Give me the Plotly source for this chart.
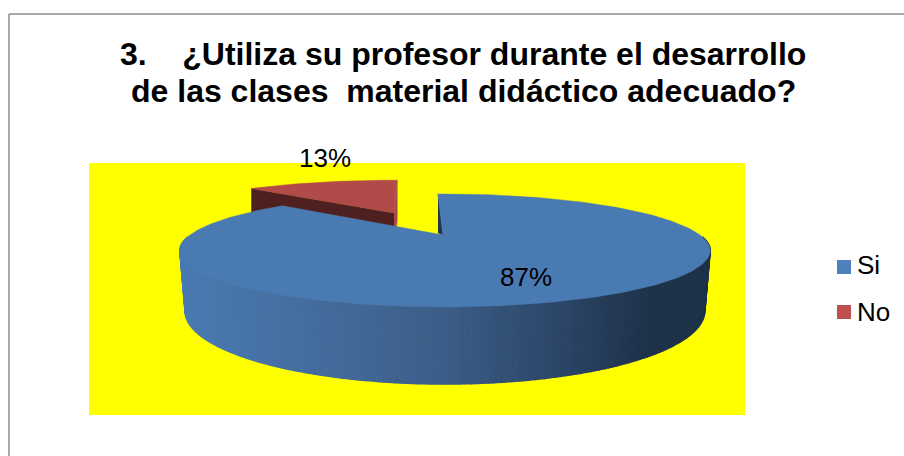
"""3D style pie chart drawn on a pixel canvas, angles come from the shares."""

import numpy as np
import plotly.graph_objects as go

categories = ["Si", "No"]
shares = [87, 13]
title_lines = [
    "3.\u00a0\u00a0\u00a0\u00a0¿Utiliza su profesor durante el desarrollo",
    "de las clases\u00a0\u00a0material didáctico adecuado?",
]

W, H = 904, 456
ROTATION = -2
NO_ROTATION = 1
PERSP = 0.274
RX, RY = 255, 52.2
ARC_DX = 2
DEPTH = 56
FONT = "Liberation Sans, Arial, sans-serif"


def top_point(theta, apex, sx=1.0, sy=1.0, dx=0.0):
    t = np.radians(theta)
    u, v = np.sin(t), np.cos(t)
    d = 1 + PERSP * v
    return apex[0] + dx + sx * RX * u / d, apex[1] - sy * RY * v / d


def side_color(x):
    # left edge keeps the top colour, right side goes dark
    stops_x = [180, 300, 440, 560, 650, 711]
    stops_r = [74, 68, 60, 44, 30, 30]
    stops_g = [122, 110, 94, 70, 50, 50]
    stops_b = [178, 160, 136, 104, 74, 74]
    r = np.interp(x, stops_x, stops_r)
    g = np.interp(x, stops_x, stops_g)
    b = np.interp(x, stops_x, stops_b)
    return f"rgb({r:.0f},{g:.0f},{b:.0f})"


def poly(fig, xs, ys, color, width=0.5):
    fig.add_trace(go.Scatter(
        x=list(xs), y=list(ys), mode="lines", fill="toself", fillcolor=color,
        line=dict(width=width, color=color), hoverinfo="skip", showlegend=False,
    ))


fig = go.Figure()

si_sweep = shares[0] / sum(shares) * 360
no_sweep = shares[1] / sum(shares) * 360
si_apex = (443, 235)
no_apex = (394, 213)

# red slice, pulled away from the rest, sits behind the blue one
no_t = np.linspace(NO_ROTATION + si_sweep, NO_ROTATION + si_sweep + no_sweep, 40)
no_x, no_y = top_point(no_t, no_apex, sx=0.93, sy=0.8)
no_drop = 40
poly(fig, [no_x[0], no_apex[0], no_apex[0], no_x[0]],
     [no_y[0], no_apex[1], no_apex[1] + no_drop, no_y[0] + no_drop], "#4f2020")
poly(fig, [no_apex[0], no_x[-1], no_x[-1], no_apex[0]],
     [no_apex[1], no_y[-1], no_y[-1] + no_drop, no_apex[1] + no_drop], "#a84a48")
poly(fig, [no_apex[0], *no_x], [no_apex[1], *no_y], "#b04b4a")

# blue inner wall
sx0, sy0 = top_point(ROTATION, si_apex, dx=ARC_DX)
poly(fig, [sx0, si_apex[0], sx0], [sy0, si_apex[1], si_apex[1] - 2], "#1f3552")

# blue outer wall, strips overlap a little for the gradient
wall_t = np.linspace(92, 268, 180)
wall_top = [top_point(t, si_apex, dx=ARC_DX) for t in wall_t]
wall_low = [
    (si_apex[0] + (x - si_apex[0]) * 0.98, y + DEPTH / (1 + PERSP * np.cos(np.radians(t))))
    for t, (x, y) in zip(wall_t, wall_top)
]
for i in range(len(wall_t) - 1):
    xa, ya = wall_top[i]
    xb, yb = wall_top[i + 1]
    xa2, ya2 = wall_low[i]
    xb2, yb2 = wall_low[i + 1]
    poly(fig, [xa, xb, xb2, xa2], [ya, yb, yb2, ya2], side_color((xa + xb) / 2), width=1.5)

# blue top face
si_t = np.linspace(ROTATION, ROTATION + si_sweep, 240)
si_x, si_y = top_point(si_t, si_apex, dx=ARC_DX)
poly(fig, [si_apex[0], *si_x, si_apex[0]], [si_apex[1], *si_y, si_apex[1]], "#4a7ab2")

# data labels
fig.add_trace(go.Scatter(
    x=[526, 325], y=[279, 160], mode="text",
    text=[f"{s}%" for s in shares],
    textfont=dict(family=FONT, size=26, color="#000000"),
    hoverinfo="skip", showlegend=False,
))

# legend
fig.add_trace(go.Scatter(
    x=[844, 844], y=[267, 312], mode="markers",
    marker=dict(symbol="square", size=14, color=["#4f81bd", "#c0504d"], line=dict(width=0)),
    hoverinfo="skip", showlegend=False,
))
for name, y in zip(categories, [265, 312]):
    fig.add_annotation(x=858, y=y, text=name, showarrow=False, xanchor="left", yanchor="middle",
                       xshift=-3, font=dict(family=FONT, size=26, color="#000000"))

for line, y in zip(title_lines, [54, 91]):
    fig.add_annotation(x=463, y=y, text=f"<b>{line}</b>", showarrow=False,
                       xanchor="center", yanchor="middle",
                       font=dict(family=FONT, size=32, color="#000000"))

fig.update_layout(
    width=W, height=H,
    margin=dict(l=0, r=0, t=0, b=0),
    paper_bgcolor="#ffffff", plot_bgcolor="#ffffff",
    showlegend=False,
    xaxis=dict(range=[0, W], visible=False, fixedrange=True),
    yaxis=dict(range=[H, 0], visible=False, fixedrange=True),
    shapes=[
        dict(type="rect", xref="x", yref="y", x0=89, x1=745, y0=163, y1=415,
             fillcolor="#ffff00", line=dict(width=0), layer="below"),
        dict(type="line", xref="x", yref="y", x0=9, x1=9, y0=14, y1=H,
             line=dict(color="#8c8c8c", width=1.5)),
        dict(type="line", xref="x", yref="y", x0=9, x1=W, y0=14, y1=14,
             line=dict(color="#8c8c8c", width=1.5)),
    ],
)

# page default body margin would push the canvas 8px in
fig.write_html("out.html", config={"displayModeBar": False},
               post_script="document.body.style.margin='0';")
